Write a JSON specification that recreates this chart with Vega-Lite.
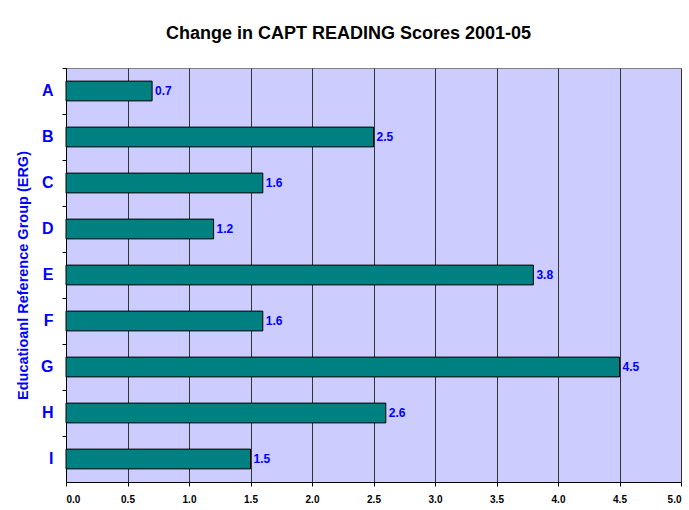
{
  "$schema": "https://vega.github.io/schema/vega-lite/v6.json",
  "width": 615,
  "height": 414,
  "autosize": {"type": "none"},
  "padding": {"left": 66, "top": 68, "right": 8, "bottom": 28},
  "background": "white",
  "title": {
    "text": "Change in CAPT READING Scores 2001-05",
    "font": "Liberation Sans",
    "fontSize": 18,
    "fontWeight": "bold",
    "color": "black",
    "anchor": "middle",
    "frame": "bounds",
    "offset": 25
  },
  "data": {
    "values": [
      {"group": "A", "change": 0.7},
      {"group": "B", "change": 2.5},
      {"group": "C", "change": 1.6},
      {"group": "D", "change": 1.2},
      {"group": "E", "change": 3.8},
      {"group": "F", "change": 1.6},
      {"group": "G", "change": 4.5},
      {"group": "H", "change": 2.6},
      {"group": "I", "change": 1.5}
    ]
  },
  "encoding": {
    "y": {
      "field": "group",
      "type": "nominal",
      "sort": null,
      "scale": {"paddingInner": 0, "paddingOuter": 0},
      "axis": {
        "title": "Educatioanl Reference Group (ERG)",
        "titleFont": "Liberation Sans",
        "titleFontSize": 14.5,
        "titleFontWeight": "bold",
        "titleColor": "#0000FF",
        "titlePadding": 10,
        "labelFont": "Liberation Sans",
        "labelFontSize": 16,
        "labelFontWeight": "bold",
        "labelColor": "#0000FF",
        "labelPadding": 9,
        "labelAlign": "right",
        "bandPosition": 0,
        "tickColor": "black",
        "tickSize": 4,
        "domainColor": "black",
        "grid": false
      }
    },
    "x": {
      "field": "change",
      "type": "quantitative",
      "scale": {"domain": [0, 5], "nice": false},
      "axis": {
        "title": null,
        "values": [0, 0.5, 1, 1.5, 2, 2.5, 3, 3.5, 4, 4.5, 5],
        "format": ".1f",
        "labelFont": "Liberation Sans",
        "labelFontSize": 10,
        "labelFontWeight": "bold",
        "labelColor": "black",
        "labelPadding": 8,
        "tickColor": "black",
        "tickSize": 4,
        "domainColor": "black",
        "grid": true,
        "gridColor": "#333333",
        "gridOpacity": 1,
        "gridWidth": 1
      }
    }
  },
  "layer": [
    {
      "mark": {"type": "bar", "color": "#008080", "stroke": "black", "strokeWidth": 1, "height": {"band": 0.43}}
    },
    {
      "mark": {"type": "text", "align": "left", "baseline": "middle", "dx": 3, "font": "Liberation Sans", "fontSize": 12, "fontWeight": "bold", "color": "#0000FF"},
      "encoding": {
        "text": {"field": "change", "type": "quantitative", "format": ".1f"}
      }
    }
  ],
  "config": {
    "view": {"fill": "#CCCCFF", "stroke": "#808080", "strokeWidth": 1}
  }
}
